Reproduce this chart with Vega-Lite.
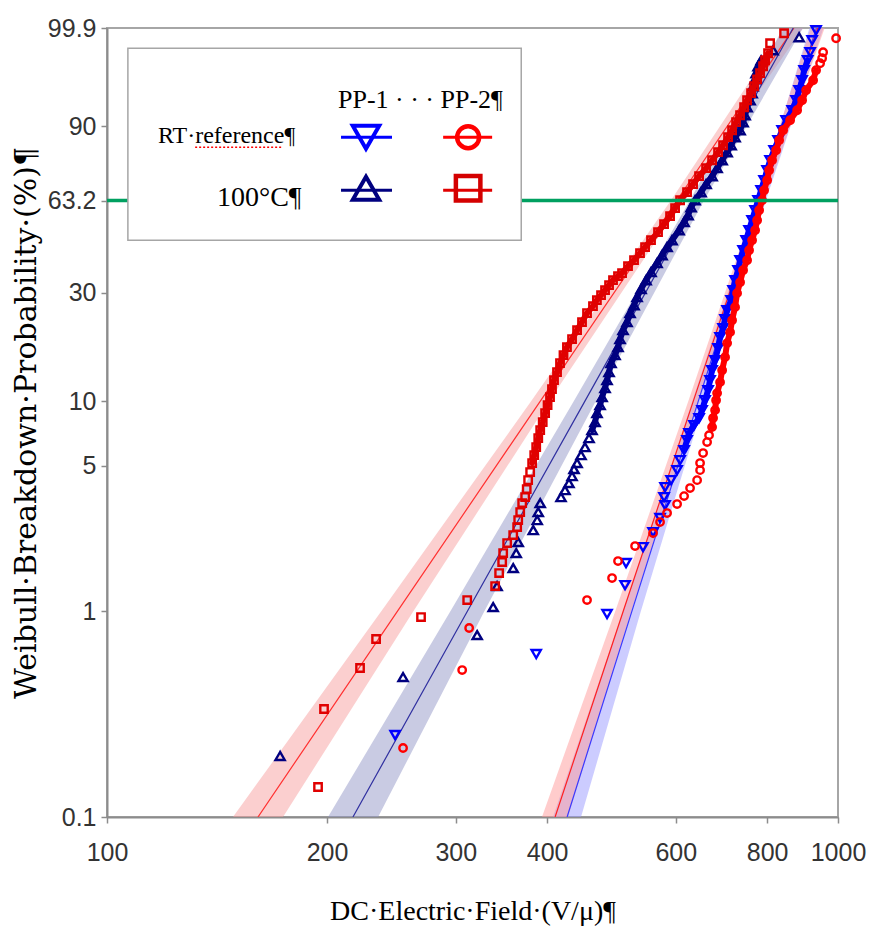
{
 "$schema": "https://vega.github.io/schema/vega-lite/v6.json",
 "width": 731, "height": 789,
 "autosize": {"type": "none"},
 "padding": {"left": 107, "top": 28, "right": 34, "bottom": 114},
 "background": "white",
 "config": {"view": {"stroke": "#a6a6a6", "strokeWidth": 2}, "axis": {"grid": false}},
 "datasets": {
  "one": [{"E": 500, "w": 0}],
  "gridMinorY": [{"p":0.2,"w":-6.2136},{"p":0.3,"w":-5.8077},{"p":0.4,"w":-5.5195},{"p":0.5,"w":-5.2958},{"p":0.6,"w":-5.1129},{"p":0.7,"w":-4.9582},{"p":0.8,"w":-4.8243},{"p":0.9,"w":-4.706},{"p":2,"w":-3.9019},{"p":3,"w":-3.4913},{"p":4,"w":-3.1985},{"p":6,"w":-2.7826},{"p":7,"w":-2.6232},{"p":8,"w":-2.4843},{"p":9,"w":-2.3612},{"p":20,"w":-1.4999},{"p":40,"w":-0.6717},{"p":50,"w":-0.3665},{"p":70,"w":0.1856},{"p":80,"w":0.4759}],
  "gridMidY": [{"p":5,"w":-2.9702},{"p":30,"w":-1.0309},{"p":90,"w":0.834}],
  "gridMajorY": [{"p":1,"w":-4.6002},{"p":10,"w":-2.2504}],
  "gridMajorX": [{"E":200},{"E":300},{"E":400},{"E":600},{"E":800}],
  "gridMinorX": [{"E":500},{"E":700},{"E":900}],
  "bandA": [{"w":-6.9073,"E":148.7,"E2":174.1},{"w":-4.6,"E":237.4,"E2":262.6},{"w":-2.259,"E":379.7,"E2":401.9},{"w":0.003,"E":591.0,"E2":613.7},{"w":1.9326,"E":846.3,"E2":895.7}],
  "fitA": [{"w":-6.9073,"E":160.9},{"w":-4.6,"E":249.7},{"w":-2.259,"E":390.7},{"w":0.003,"E":602.2},{"w":1.9326,"E":870.5}],
  "bandB": [{"w":-6.9073,"E":200.6,"E2":234.9},{"w":-4.6,"E":295.1,"E2":328.4},{"w":-2.259,"E":434.4,"E2":465.6},{"w":0.003,"E":627.4,"E2":655.7},{"w":1.9326,"E":841.0,"E2":895.7}],
  "fitB": [{"w":-6.9073,"E":217.0},{"w":-4.6,"E":311.3},{"w":-2.259,"E":449.8},{"w":0.003,"E":641.6},{"w":1.9326,"E":868.4}],
  "bandC": [{"w":-6.9073,"E":393.6,"E2":427.2},{"w":-4.6,"E":495.9,"E2":521.5},{"w":-2.259,"E":623.5,"E2":643.4},{"w":0.003,"E":773.1,"E2":792.8},{"w":1.9326,"E":917.5,"E2":958.8}],
  "fitC": [{"w":-6.9073,"E":410.2},{"w":-4.6,"E":508.5},{"w":-2.259,"E":633.3},{"w":0.003,"E":782.9},{"w":1.9326,"E":938.0}],
  "bandD": [{"w":-6.9073,"E":407.5,"E2":445.1},{"w":-4.6,"E":507.9,"E2":537.5},{"w":-2.259,"E":631.4,"E2":655.7},{"w":0.003,"E":777.0,"E2":796.8},{"w":1.9326,"E":913.9,"E2":955.0}],
  "fitD": [{"w":-6.9073,"E":426.0},{"w":-4.6,"E":522.5},{"w":-2.259,"E":643.4},{"w":0.003,"E":786.9},{"w":1.9326,"E":934.2}],
  "pp1rt": [{"E":247.8,"w":-5.989},{"E":386.5,"w":-5.081},{"E":483.1,"w":-4.633},{"E":511.3,"w":-4.309},{"E":512.9,"w":-4.062},{"E":541.1,"w":-3.883},{"E":558.5,"w":-3.715},{"E":570.9,"w":-3.558},{"E":580.0,"w":-3.413},{"E":578.2,"w":-3.323},{"E":580.0,"w":-3.211},{"E":591.1,"w":-3.133},{"E":602.4,"w":-3.021},{"E":608.1,"w":-2.909},{"E":615.8,"w":-2.797},{"E":621.6,"w":-2.685},{"E":625.5,"w":-2.606},{"E":635.5,"w":-2.517},{"E":645.6,"w":-2.438},{"E":651.7,"w":-2.349},{"E":657.9,"w":-2.237},{"E":664.2,"w":-2.125},{"E":668.3,"w":-2.013},{"E":672.6,"w":-1.901},{"E":679.0,"w":-1.789},{"E":685.4,"w":-1.654},{"E":689.7,"w":-1.531},{"E":696.3,"w":-1.43},{"E":700.7,"w":-1.329},{"E":705.2,"w":-1.229},{"E":714.1,"w":-1.117},{"E":718.6,"w":-1.005},{"E":723.1,"w":-0.893},{"E":730.0,"w":-0.781},{"E":734.6,"w":-0.669},{"E":741.6,"w":-0.557},{"E":748.7,"w":-0.445},{"E":755.7,"w":-0.333},{"E":762.9,"w":-0.221},{"E":770.2,"w":-0.109},{"E":777.5,"w":0.003},{"E":784.9,"w":0.115},{"E":792.3,"w":0.227},{"E":799.9,"w":0.339},{"E":807.4,"w":0.451},{"E":817.7,"w":0.563},{"E":828.0,"w":0.675},{"E":838.6,"w":0.787},{"E":849.2,"w":0.899},{"E":865.5,"w":1.011},{"E":876.4,"w":1.123},{"E":884.7,"w":1.235},{"E":893.1,"w":1.347},{"E":898.8,"w":1.459},{"E":908.7,"w":1.571},{"E":915.9,"w":1.661},{"E":921.7,"w":1.795},{"E":933.3,"w":1.907}],
  "pp2rt": [{"E":254.1,"w":-6.134},{"E":306.1,"w":-5.261},{"E":312.9,"w":-4.79},{"E":453.6,"w":-4.477},{"E":490.8,"w":-4.23},{"E":500.1,"w":-4.04},{"E":527.7,"w":-3.872},{"E":558.5,"w":-3.726},{"E":570.9,"w":-3.603},{"E":583.7,"w":-3.502},{"E":602.4,"w":-3.401},{"E":615.8,"w":-3.312},{"E":627.5,"w":-3.222},{"E":641.6,"w":-3.133},{"E":647.6,"w":-3.021},{"E":647.6,"w":-2.942},{"E":653.8,"w":-2.83},{"E":662.1,"w":-2.707},{"E":666.2,"w":-2.629},{"E":672.6,"w":-2.539},{"E":674.7,"w":-2.438},{"E":679.0,"w":-2.349},{"E":681.1,"w":-2.237},{"E":683.3,"w":-2.158},{"E":689.7,"w":-2.035},{"E":694.2,"w":-1.901},{"E":700.7,"w":-1.755},{"E":705.2,"w":-1.598},{"E":711.8,"w":-1.475},{"E":716.3,"w":-1.341},{"E":723.1,"w":-1.195},{"E":727.7,"w":-1.038},{"E":734.6,"w":-0.915},{"E":741.6,"w":-0.781},{"E":751.0,"w":-0.669},{"E":755.7,"w":-0.557},{"E":762.9,"w":-0.445},{"E":770.2,"w":-0.333},{"E":775.1,"w":-0.221},{"E":780.0,"w":-0.109},{"E":787.4,"w":0.003},{"E":792.3,"w":0.115},{"E":799.9,"w":0.227},{"E":804.9,"w":0.339},{"E":812.5,"w":0.451},{"E":822.9,"w":0.563},{"E":830.7,"w":0.675},{"E":841.2,"w":0.787},{"E":860.0,"w":0.899},{"E":879.2,"w":1.011},{"E":893.1,"w":1.123},{"E":904.5,"w":1.235},{"E":924.6,"w":1.347},{"E":933.3,"w":1.459},{"E":945.2,"w":1.538},{"E":951.2,"w":1.594},{"E":954.2,"w":1.661},{"E":994.0,"w":1.818}],
  "pp1ht": [{"E":172.5,"w":-6.224},{"E":254.1,"w":-5.339},{"E":320.9,"w":-4.869},{"E":337.5,"w":-4.555},{"E":341.7,"w":-4.32},{"E":359.5,"w":-4.118},{"E":362.9,"w":-3.95},{"E":365.2,"w":-3.827},{"E":382.9,"w":-3.693},{"E":387.7,"w":-3.581},{"E":389.0,"w":-3.491},{"E":391.4,"w":-3.39},{"E":417.9,"w":-3.323},{"E":423.2,"w":-3.245},{"E":428.5,"w":-3.166},{"E":432.7,"w":-3.088},{"E":435.4,"w":-3.009},{"E":439.6,"w":-2.942},{"E":445.1,"w":-2.853},{"E":450.7,"w":-2.763},{"E":456.5,"w":-2.662},{"E":460.8,"w":-2.573},{"E":465.2,"w":-2.483},{"E":468.1,"w":-2.382},{"E":472.6,"w":-2.293},{"E":475.6,"w":-2.203},{"E":480.1,"w":-2.102},{"E":483.1,"w":-2.013},{"E":486.2,"w":-1.923},{"E":489.2,"w":-1.822},{"E":495.4,"w":-1.733},{"E":500.1,"w":-1.643},{"E":503.3,"w":-1.553},{"E":508.1,"w":-1.453},{"E":514.5,"w":-1.363},{"E":519.4,"w":-1.262},{"E":526.0,"w":-1.173},{"E":531.0,"w":-1.083},{"E":537.7,"w":-0.993},{"E":546.3,"w":-0.893},{"E":554.9,"w":-0.803},{"E":565.5,"w":-0.702},{"E":574.5,"w":-0.613},{"E":583.7,"w":-0.523},{"E":592.9,"w":-0.445},{"E":606.2,"w":-0.333},{"E":615.8,"w":-0.243},{"E":623.6,"w":-0.165},{"E":629.5,"w":-0.075},{"E":637.5,"w":0.003},{"E":649.6,"w":0.093},{"E":660.0,"w":0.183},{"E":672.6,"w":0.272},{"E":683.3,"w":0.362},{"E":694.2,"w":0.451},{"E":705.2,"w":0.541},{"E":714.1,"w":0.619},{"E":723.1,"w":0.709},{"E":734.6,"w":0.787},{"E":741.6,"w":0.877},{"E":746.3,"w":0.955},{"E":751.0,"w":1.045},{"E":758.1,"w":1.123},{"E":762.9,"w":1.202},{"E":765.3,"w":1.28},{"E":770.2,"w":1.358},{"E":772.6,"w":1.426},{"E":777.5,"w":1.504},{"E":784.9,"w":1.571},{"E":815.0,"w":1.683},{"E":884.7,"w":1.829}],
  "pp2ht": [{"E":194.4,"w":-6.571},{"E":198.1,"w":-5.697},{"E":221.9,"w":-5.238},{"E":233.4,"w":-4.913},{"E":268.9,"w":-4.667},{"E":311.0,"w":-4.477},{"E":339.6,"w":-4.32},{"E":343.9,"w":-4.174},{"E":347.2,"w":-4.051},{"E":348.3,"w":-3.95},{"E":352.7,"w":-3.838},{"E":359.5,"w":-3.749},{"E":364.0,"w":-3.659},{"E":365.2,"w":-3.581},{"E":367.5,"w":-3.491},{"E":369.8,"w":-3.39},{"E":373.3,"w":-3.323},{"E":375.1,"w":-3.233},{"E":376.8,"w":-3.133},{"E":379.2,"w":-3.043},{"E":381.6,"w":-2.942},{"E":384.1,"w":-2.853},{"E":386.5,"w":-2.763},{"E":389.0,"w":-2.662},{"E":391.4,"w":-2.573},{"E":394.5,"w":-2.483},{"E":397.5,"w":-2.382},{"E":400.6,"w":-2.293},{"E":403.7,"w":-2.203},{"E":406.2,"w":-2.113},{"E":408.8,"w":-2.013},{"E":412.7,"w":-1.923},{"E":416.6,"w":-1.822},{"E":421.2,"w":-1.733},{"E":425.8,"w":-1.643},{"E":432.7,"w":-1.553},{"E":439.6,"w":-1.453},{"E":446.5,"w":-1.363},{"E":453.6,"w":-1.262},{"E":462.2,"w":-1.184},{"E":467.9,"w":-1.117},{"E":474.1,"w":-1.061},{"E":480.1,"w":-1.005},{"E":486.2,"w":-0.949},{"E":492.3,"w":-0.893},{"E":500.1,"w":-0.848},{"E":506.5,"w":-0.814},{"E":516.1,"w":-0.736},{"E":526.0,"w":-0.669},{"E":536.0,"w":-0.59},{"E":544.6,"w":-0.523},{"E":554.9,"w":-0.445},{"E":567.3,"w":-0.355},{"E":578.2,"w":-0.265},{"E":589.2,"w":-0.176},{"E":598.6,"w":-0.086},{"E":608.1,"w":0.003},{"E":621.6,"w":0.093},{"E":633.5,"w":0.183},{"E":645.6,"w":0.272},{"E":660.0,"w":0.362},{"E":672.6,"w":0.451},{"E":685.4,"w":0.541},{"E":696.3,"w":0.619},{"E":707.3,"w":0.709},{"E":716.3,"w":0.787},{"E":725.4,"w":0.877},{"E":734.6,"w":0.955},{"E":744.0,"w":1.045},{"E":751.0,"w":1.123},{"E":760.5,"w":1.202},{"E":767.8,"w":1.28},{"E":775.1,"w":1.358},{"E":782.4,"w":1.426},{"E":789.8,"w":1.504},{"E":794.8,"w":1.571},{"E":802.3,"w":1.65},{"E":807.4,"w":1.762},{"E":843.8,"w":1.874}]
 },
 "encoding": {
  "x": {"field": "E", "type": "quantitative", "scale": {"type": "log", "domain": [100, 1000], "nice": false},
    "axis": {"values": [100, 200, 300, 400, 600, 800, 1000], "format": "d", "title": "DC·Electric·Field·(V/μ)¶",
      "domainColor": "#8c8c8c", "domainWidth": 2, "tickColor": "#8c8c8c", "tickSize": 6, "tickWidth": 1.5,
      "labelFont": "Liberation Sans", "labelFontSize": 25, "labelColor": "#333333", "labelPadding": 17, "labelFlush": false, "labelOverlap": false,
      "titleFont": "Liberation Serif", "titleFontSize": 28, "titleFontWeight": "normal", "titleColor": "#000000", "titlePadding": 32}},
  "y": {"field": "w", "type": "quantitative", "scale": {"domain": [-6.9073, 1.9326], "nice": false, "zero": false},
    "axis": {"values": [-6.9073, -4.6002, -2.9702, -2.2504, -1.0309, -0.0003, 0.834, 1.9326],
      "labelExpr": "datum.value < -6 ? '0.1' : datum.value < -4 ? '1' : datum.value < -2.6 ? '5' : datum.value < -2 ? '10' : datum.value < -0.5 ? '30' : datum.value < 0.5 ? '63.2' : datum.value < 1.5 ? '90' : '99.9'",
      "title": "Weibull·Breakdown·Probability·(%)¶", "domainColor": "#8c8c8c", "domainWidth": 2, "tickColor": "#8c8c8c", "tickSize": 6, "tickWidth": 1.5,
      "labelFont": "Liberation Sans", "labelFontSize": 25, "labelColor": "#333333", "labelPadding": 5, "labelFlush": false, "labelOverlap": false, "labelBaseline": "middle",
      "titleFont": "DejaVu Serif", "titleFontSize": 30, "titleFontWeight": "normal", "titleColor": "#000000", "titlePadding": 6}}
 },
 "layer": [
  {"data": {"name": "gridMinorY"}, "mark": {"type": "rule", "color": "#dcdcdc", "strokeWidth": 1.5}, "encoding": {"x": {"datum": 100, "type": "quantitative"}, "x2": {"datum": 1000}}},
  {"data": {"name": "gridMidY"}, "mark": {"type": "rule", "color": "#bdbdbd", "strokeWidth": 1.5}, "encoding": {"x": {"datum": 100, "type": "quantitative"}, "x2": {"datum": 1000}}},
  {"data": {"name": "gridMajorY"}, "mark": {"type": "rule", "color": "#8f8f8f", "strokeWidth": 1.5}, "encoding": {"x": {"datum": 100, "type": "quantitative"}, "x2": {"datum": 1000}}},
  {"data": {"name": "gridMinorX"}, "mark": {"type": "rule", "color": "#d4d4d4", "strokeWidth": 1.5}, "encoding": {"y": {"datum": -6.9073, "type": "quantitative"}, "y2": {"datum": 1.9326}}},
  {"data": {"name": "gridMajorX"}, "mark": {"type": "rule", "color": "#b4b4b4", "strokeWidth": 1.5}, "encoding": {"y": {"datum": -6.9073, "type": "quantitative"}, "y2": {"datum": 1.9326}}},
  {"data": {"name": "bandA"}, "mark": {"type": "area", "orient": "horizontal", "color": "#f7a0a0", "opacity": 0.5, "clip": true}, "encoding": {"x2": {"field": "E2"}}},
  {"data": {"name": "bandB"}, "mark": {"type": "area", "orient": "horizontal", "color": "#9398c8", "opacity": 0.5, "clip": true}, "encoding": {"x2": {"field": "E2"}}},
  {"data": {"name": "bandD"}, "mark": {"type": "area", "orient": "horizontal", "color": "#9a9aff", "opacity": 0.5, "clip": true}, "encoding": {"x2": {"field": "E2"}}},
  {"data": {"name": "bandC"}, "mark": {"type": "area", "orient": "horizontal", "color": "#ff9a9a", "opacity": 0.5, "clip": true}, "encoding": {"x2": {"field": "E2"}}},
  {"data": {"name": "fitA"}, "mark": {"type": "line", "color": "#ff3030", "strokeWidth": 1.2, "clip": true}, "encoding": {}},
  {"data": {"name": "fitB"}, "mark": {"type": "line", "color": "#3030a0", "strokeWidth": 1.2, "clip": true}, "encoding": {}},
  {"data": {"name": "fitD"}, "mark": {"type": "line", "color": "#3a3aff", "strokeWidth": 1.2, "clip": true}, "encoding": {}},
  {"data": {"name": "fitC"}, "mark": {"type": "line", "color": "#ff2020", "strokeWidth": 1.2, "clip": true}, "encoding": {}},
  {"data": {"name": "pp1rt"}, "transform": [{"filter": "datum.w > -2.8 && datum.w < 1.6"}], "mark": {"type": "line", "color": "#0000ff", "strokeWidth": 6, "strokeCap": "round", "strokeJoin": "round"}, "encoding": {"order": {"field": "w", "type": "quantitative"}}},
  {"data": {"name": "pp1rt"}, "mark": {"type": "point", "shape": "triangle-down", "filled": false, "size": 85, "strokeWidth": 2.4, "color": "#0000ff", "opacity": 1}},
  {"data": {"name": "pp1ht"}, "transform": [{"filter": "datum.w > -2.6 && datum.w < 1.6"}], "mark": {"type": "line", "color": "#000080", "strokeWidth": 6, "strokeCap": "round", "strokeJoin": "round"}, "encoding": {"order": {"field": "w", "type": "quantitative"}}},
  {"data": {"name": "pp1ht"}, "mark": {"type": "point", "shape": "triangle-up", "filled": false, "size": 85, "strokeWidth": 2.4, "color": "#000080", "opacity": 1}},
  {"data": {"name": "pp2rt"}, "transform": [{"filter": "datum.w > -2.55 && datum.w < 1.5"}], "mark": {"type": "line", "color": "#ff0000", "strokeWidth": 6, "strokeCap": "round", "strokeJoin": "round"}, "encoding": {"order": {"field": "w", "type": "quantitative"}}},
  {"data": {"name": "pp2rt"}, "mark": {"type": "point", "shape": "circle", "filled": false, "size": 55, "strokeWidth": 2.4, "color": "#ff0000", "opacity": 1}},
  {"data": {"name": "pp2ht"}, "transform": [{"filter": "datum.w > -2.95 && datum.w < 1.7"}], "mark": {"type": "line", "color": "#e00000", "strokeWidth": 6, "strokeCap": "round", "strokeJoin": "round"}, "encoding": {"order": {"field": "w", "type": "quantitative"}}},
  {"data": {"name": "pp2ht"}, "mark": {"type": "point", "shape": "square", "filled": false, "size": 55, "strokeWidth": 2.4, "color": "#e00000", "opacity": 1}},
  {"data": {"name": "one"}, "mark": {"type": "rule", "color": "#00a060", "strokeWidth": 3.5},
   "encoding": {"x": {"datum": 100, "type": "quantitative"}, "x2": {"datum": 1000}, "y": {"datum": -0.0003, "type": "quantitative"}}},
  {"data": {"name": "one"}, "mark": {"type": "rect", "fill": "#ffffff", "stroke": "#a6a6a6", "strokeWidth": 1.5},
   "encoding": {"x": {"datum": 106.8, "type": "quantitative"}, "x2": {"datum": 368.7}, "y": {"datum": 1.706, "type": "quantitative"}, "y2": {"datum": -0.445}}},
  {"data": {"name": "one"}, "mark": {"type": "rule", "color": "#0000ff", "strokeWidth": 3},
   "encoding": {"x": {"datum": 209.0, "type": "quantitative"}, "x2": {"datum": 245.4}, "y": {"datum": 0.709, "type": "quantitative"}}},
  {"data": {"name": "one"}, "mark": {"type": "rule", "color": "#ff0000", "strokeWidth": 3},
   "encoding": {"x": {"datum": 288.3, "type": "quantitative"}, "x2": {"datum": 336.4}, "y": {"datum": 0.709, "type": "quantitative"}}},
  {"data": {"name": "one"}, "mark": {"type": "rule", "color": "#000080", "strokeWidth": 3},
   "encoding": {"x": {"datum": 209.0, "type": "quantitative"}, "x2": {"datum": 245.4}, "y": {"datum": 0.115, "type": "quantitative"}}},
  {"data": {"name": "one"}, "mark": {"type": "rule", "color": "#e00000", "strokeWidth": 3},
   "encoding": {"x": {"datum": 288.3, "type": "quantitative"}, "x2": {"datum": 336.4}, "y": {"datum": 0.115, "type": "quantitative"}}},
  {"data": {"name": "one"}, "mark": {"type": "point", "shape": "triangle-down", "filled": false, "size": 700, "strokeWidth": 4, "color": "#0000ff", "opacity": 1},
   "encoding": {"x": {"datum": 226.1, "type": "quantitative"}, "y": {"datum": 0.709, "type": "quantitative"}}},
  {"data": {"name": "one"}, "mark": {"type": "point", "shape": "circle", "filled": false, "size": 480, "strokeWidth": 4.5, "color": "#ff0000", "opacity": 1},
   "encoding": {"x": {"datum": 311.9, "type": "quantitative"}, "y": {"datum": 0.709, "type": "quantitative"}}},
  {"data": {"name": "one"}, "mark": {"type": "point", "shape": "triangle-up", "filled": false, "size": 700, "strokeWidth": 4, "color": "#000080", "opacity": 1},
   "encoding": {"x": {"datum": 226.1, "type": "quantitative"}, "y": {"datum": 0.138, "type": "quantitative"}}},
  {"data": {"name": "one"}, "mark": {"type": "point", "shape": "square", "filled": false, "size": 600, "strokeWidth": 4.5, "color": "#d40000", "opacity": 1},
   "encoding": {"x": {"datum": 311.9, "type": "quantitative"}, "y": {"datum": 0.138, "type": "quantitative"}}},
  {"data": {"name": "one"}, "mark": {"type": "text", "text": "PP-1 · · · PP-2¶", "font": "Liberation Serif", "fontSize": 26, "align": "left", "baseline": "alphabetic", "color": "#000000"},
   "encoding": {"x": {"datum": 207.0, "type": "quantitative"}, "y": {"datum": 1.034, "type": "quantitative"}}},
  {"data": {"name": "one"}, "mark": {"type": "text", "text": "RT·reference¶", "font": "Liberation Serif", "fontSize": 24, "align": "left", "baseline": "alphabetic", "color": "#000000"},
   "encoding": {"x": {"datum": 117.4, "type": "quantitative"}, "y": {"datum": 0.642, "type": "quantitative"}}},
  {"data": {"name": "one"}, "mark": {"type": "rule", "color": "#ff0000", "strokeWidth": 1.5, "strokeDash": [2, 2]},
   "encoding": {"x": {"datum": 132.0, "type": "quantitative"}, "x2": {"datum": 174.1}, "y": {"datum": 0.597, "type": "quantitative"}}},
  {"data": {"name": "one"}, "mark": {"type": "text", "text": "100°C¶", "font": "Liberation Serif", "fontSize": 28, "align": "left", "baseline": "alphabetic", "color": "#000000"},
   "encoding": {"x": {"datum": 141.4, "type": "quantitative"}, "y": {"datum": -0.064, "type": "quantitative"}}}
 ]
}
